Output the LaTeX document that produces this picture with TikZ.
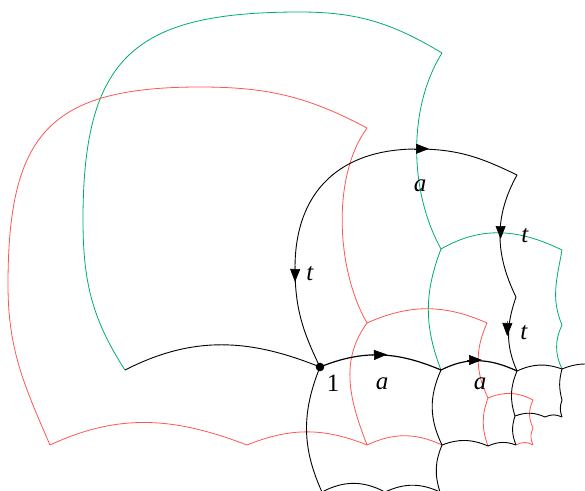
\documentclass[tikz,border=0pt]{standalone}
\usepackage{fontspec}
\setmainfont{Liberation Serif}
\usetikzlibrary{arrows.meta}
\definecolor{sheetgreen}{RGB}{0,172,106}
\definecolor{sheetred}{RGB}{255,85,85}
\begin{document}
\begin{tikzpicture}[x=1pt,y=-1pt,
  gline/.style={draw=sheetgreen,line width=0.8pt},
  rline/.style={draw=sheetred,line width=0.8pt},
  bline/.style={draw=black,line width=0.9pt},
  aline/.style={draw=black,line width=1.2pt},
  tip/.style={draw=black,line width=0.6pt,-{Triangle[length=13pt,width=10pt]}},
  lab/.style={font=\fontsize{25}{28}\selectfont}]
\useasboundingbox (0,0) rectangle (585,490);
\clip (0,0) rectangle (585,490);
% corners
\coordinate (one) at (320,367);
\coordinate (Lb) at (125,370);
\coordinate (T0r) at (441,370);
\coordinate (T1r) at (517,371);
\coordinate (T2r) at (562,369);
\coordinate (T3r) at (608,369);
\coordinate (Bt) at (517,175);
\coordinate (Bm) at (516,297);
\coordinate (BW) at (295,268);
\coordinate (BN) at (417,149);
\coordinate (GW) at (83,220);
\coordinate (GN) at (300,12);
\coordinate (Gtr) at (442,53);
\coordinate (G2tl) at (441,249);
\coordinate (G2tr) at (562,250);
\coordinate (G2m) at (562,325);
\coordinate (RW) at (8,285);
\coordinate (RN) at (200,87);
\coordinate (Rbl) at (50,445);
\coordinate (Rtr) at (367,128);
\coordinate (Rm) at (367,323);
\coordinate (Rbr) at (367,445);
\coordinate (Rc) at (247,445);
\coordinate (R2tr) at (487,323);
\coordinate (R2m) at (488,398);
\coordinate (T0m) at (442,445);
\coordinate (T1b) at (488,446);
\coordinate (T1br) at (516,445);
\coordinate (T1m) at (515,416);
\coordinate (T2b) at (545,417);
\coordinate (T2br) at (562,417);
\coordinate (T3w) at (562,400);
\coordinate (R3tr) at (533,400);
\coordinate (R3w) at (533,428);
\coordinate (R3br) at (533,445);
\coordinate (T0bl) at (322,492);
\coordinate (T0bc) at (385,492);
\coordinate (T0br) at (440,492);

% ---------------- green sheet
\draw[gline] (Lb) to[out=123,in=-90] (GW) to[out=90,in=180,looseness=1.4] (GN) to[out=0,in=149] (Gtr);
\draw[gline] (Gtr) to[out=238,in=119,looseness=0.85] (G2tl);
\draw[gline] (G2tl) to[out=249,in=111] (T0r);
\draw[gline] (G2tl) to[out=30,in=154] (G2tr);
\draw[gline] (G2tr) to[out=260,in=113] (G2m);
\draw[gline] (G2m) to[bend right=25] (T2r);

% ---------------- red sheet
\draw[rline] (Rbl) to[out=113.5,in=-90] (RW) to[out=90,in=180,looseness=1.4] (RN) to[out=0,in=152] (Rtr);
\draw[rline] (Rtr) to[out=234,in=120,looseness=0.8] (Rm);
\draw[rline] (Rm) to[out=234,in=111] (Rbr);
\draw[rline] (Rbl) to[out=25,in=159] (Rc);
\draw[rline] (Rc) to[bend left=22] (Rbr);
\draw[rline] (Rm) to[bend left=24] (R2tr);
\draw[rline] (R2tr) to[bend right=25] (R2m);
\draw[rline] (R2m) to[bend right=20] (T1b);
\draw[rline] (Rbr) to[bend left=25] (T0m);
\draw[rline] (R2m) to[bend left=25] (R3tr);
\draw[rline] (R3tr) to[bend right=25] (R3w) to[bend right=25] (R3br);
\draw[rline] (T1br) to[bend left=30] (R3br);

% ---------------- black sheet
\draw[bline] (Lb) to[out=27,in=158] (one);
\draw[bline] (one) to[out=116,in=-90] (BW) to[out=90,in=180,looseness=1.15] (BN) to[out=0,in=154] (Bt);
\draw[bline] (Bt) to[out=241,in=116] (Bm);
\draw[bline] (Bm) to[out=251,in=114] (T1r);
\draw[aline] (one) to[out=22,in=157] (T0r);
\draw[aline] (T0r) to[out=27,in=155] (T1r);
\draw[bline] (T1r) to[bend left=22] (T2r);
\draw[bline] (T2r) to[bend left=22] (T3r);
\draw[bline] (one) to[out=248,in=114.5] (T0bl);
\draw[bline] (T0r) to[bend right=25] (T0m);
\draw[bline] (T0m) to[bend right=20] (T0br);
\draw[bline] (T0bl) to[bend left=28] (T0bc);
\draw[bline] (T0bc) to[bend left=25] (T0br);
\draw[bline] (T0m) to[bend left=22] (T1b);
\draw[bline] (T1b) to[bend left=22] (T1br);
\draw[bline] (T1r) to[bend right=20] (T1m);
\draw[bline] (T1m) to[bend right=20] (T1br);
\draw[bline] (T1m) to[bend left=22] (T2b);
\draw[bline] (T2b) to[bend left=25] (T2br);
\draw[bline] (T2r) to[bend right=15] (T3w) to[bend right=20] (T2br);

% arrow heads
\draw[tip] (372,355) -- (387,354.5);
\draw[tip] (467,360) -- (482,360);
\draw[tip] (414,148.8) -- (429,148.8);
\draw[tip] (295.2,266) -- (295,282);
\draw[tip] (500.6,224) -- (500.6,239);
\draw[tip] (507.4,321) -- (507.2,336);

% base point
\fill (one) circle (4.3pt);

% labels
\node[lab] (l1) at (333,383) {1};
\node[lab] (la1) at (382,384) {\textit{a}};
\node[lab] (la2) at (480,384) {\textit{a}};
\node[lab] (la3) at (420,186) {\textit{a}};
\node[lab] (lt1) at (310,274) {\textit{t}};
\node[lab] (lt2) at (525,236) {\textit{t}};
\node[lab] (lt3) at (524,333) {\textit{t}};
\end{tikzpicture}
\end{document}
